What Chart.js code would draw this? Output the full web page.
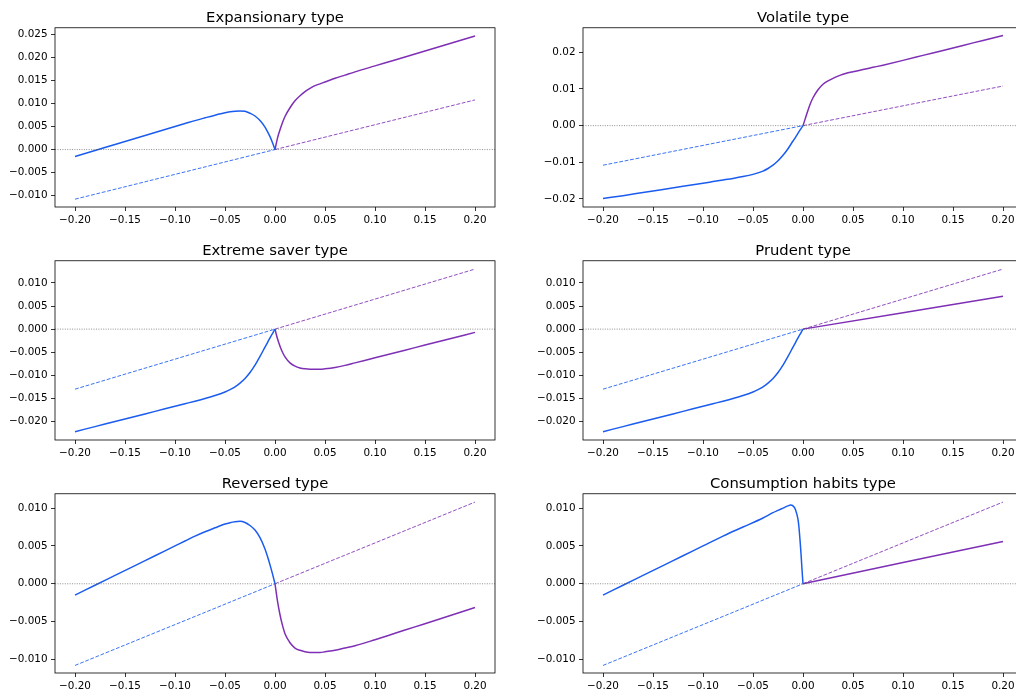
<!DOCTYPE html>
<html>
<head>
<meta charset="utf-8">
<script src="https://cdn.jsdelivr.net/npm/chart.js@4.4.1/dist/chart.umd.min.js"></script>
<style>
html,body{margin:0;padding:0;background:#fff;overflow:hidden;width:1016px;height:692px;}
.cell{position:absolute;}
</style>
</head>
<body>
<div class="cell" style="left:0px;top:0px"><canvas id="c0" width="510" height="232"></canvas></div>
<div class="cell" style="left:528px;top:0px"><canvas id="c1" width="510" height="232"></canvas></div>
<div class="cell" style="left:0px;top:233px"><canvas id="c2" width="510" height="232"></canvas></div>
<div class="cell" style="left:528px;top:233px"><canvas id="c3" width="510" height="232"></canvas></div>
<div class="cell" style="left:0px;top:466px"><canvas id="c4" width="510" height="232"></canvas></div>
<div class="cell" style="left:528px;top:466px"><canvas id="c5" width="510" height="232"></canvas></div>
<script>
// ---------------- DATA ----------------
const titles = ["Expansionary type", "Volatile type", "Extreme saver type", "Prudent type", "Reversed type", "Consumption habits type"];

const xLimits = [-0.22, 0.22];
const xTickValues = [-0.20, -0.15, -0.10, -0.05, 0.00, 0.05, 0.10, 0.15, 0.20];

// sample positions (x < 0 and x > 0)
const xLeft = [-0.2, -0.18, -0.16, -0.14, -0.12, -0.1, -0.09, -0.08, -0.07, -0.06, -0.05, -0.045, -0.04, -0.035, -0.03, -0.025, -0.02, -0.015, -0.01, -0.0075, -0.005, -0.0025, 0];
const xRight = [0, 0.0025, 0.005, 0.0075, 0.01, 0.015, 0.02, 0.025, 0.03, 0.035, 0.04, 0.045, 0.05, 0.06, 0.07, 0.08, 0.1, 0.12, 0.14, 0.16, 0.18, 0.2];
const xHabit = [-0.2, -0.18, -0.16, -0.14, -0.12, -0.1, -0.08, -0.06, -0.04, -0.03, -0.025, -0.02, -0.015, -0.0125, -0.01, -0.0075, -0.005, -0.004, -0.003, -0.002, -0.001, 0];
const xStraight = [0, 0.2];
const xDashLeft = [-0.2, 0];
const xDashRight = [0, 0.2];

// Expansionary
const expBlue = [-0.0015, -0.0002, 0.0011, 0.0024, 0.0037, 0.0050, 0.00565, 0.0063, 0.0069, 0.00748, 0.0080, 0.0082, 0.00834, 0.0084, 0.00832, 0.0079, 0.0073, 0.0063, 0.0049, 0.0039, 0.0028, 0.0015, 0];
const expPurple = [0, 0.0025, 0.0043, 0.0059, 0.0072, 0.0091, 0.0106, 0.0117, 0.0126, 0.0133, 0.0139, 0.0143, 0.0147, 0.0155, 0.0162, 0.0169, 0.0182, 0.0195, 0.0208, 0.0221, 0.0234, 0.0247];
// Volatile
const volBlue = [-0.0199, -0.0191, -0.01825, -0.0174, -0.01655, -0.0157, -0.01527, -0.01484, -0.0144, -0.0139, -0.0133, -0.0129, -0.0124, -0.0117, -0.0108, -0.0096, -0.0081, -0.0063, -0.0042, -0.0032, -0.0021, -0.0010, 0];
const volPurple = [0, 0.0021, 0.0042, 0.0061, 0.0076, 0.0098, 0.0113, 0.0122, 0.0129, 0.0135, 0.0140, 0.0144, 0.0147, 0.0153, 0.0159, 0.0165, 0.0178, 0.01916, 0.02052, 0.02188, 0.02324, 0.0246];
// Extreme saver / Prudent (shared negative side)
const saverBlue = [-0.0222, -0.0211, -0.0200, -0.0189, -0.0178, -0.0167, -0.01615, -0.0156, -0.01502, -0.01438, -0.0136, -0.0131, -0.0125, -0.0117, -0.0107, -0.0094, -0.0078, -0.0059, -0.0039, -0.0029, -0.0019, -0.00095, 0];
const saverPurple = [0, -0.0021, -0.0037, -0.0050, -0.0060, -0.0073, -0.0080, -0.0084, -0.0086, -0.0087, -0.0087, -0.0087, -0.0086, -0.0083, -0.00785, -0.0073, -0.0062, -0.0051, -0.0040, -0.0029, -0.0018, -0.0007];
const prudentPurple = [0, 0.0071];
// Reversed
const revBlue = [-0.0015, -0.0002, 0.0011, 0.0024, 0.0037, 0.0050, 0.00565, 0.0063, 0.00688, 0.0074, 0.0079, 0.00808, 0.0082, 0.00825, 0.0081, 0.0077, 0.0071, 0.0061, 0.0046, 0.0036, 0.0025, 0.0013, 0];
const revPurple = [0, -0.0023, -0.0041, -0.0055, -0.0066, -0.0078, -0.0085, -0.0088, -0.0090, -0.0091, -0.0091, -0.0091, -0.0090, -0.0088, -0.0085, -0.0082, -0.0074, -0.00655, -0.0057, -0.00485, -0.0040, -0.00315];
// Consumption habits
const habitBlue = [-0.0015, -0.0002, 0.0011, 0.0024, 0.0037, 0.0050, 0.0063, 0.0075, 0.0087, 0.0094, 0.0097, 0.0100, 0.0103, 0.0104, 0.0103, 0.0098, 0.0085, 0.0074, 0.0058, 0.0040, 0.0019, 0];
const habitPurple = [0, 0.0056];

// reference (dashed) lines
const dashSmallLeft = [-0.0108, 0];
const dashSmallRight = [0, 0.0108];
const dashLargeLeft = [-0.0130, 0];
const dashLargeRight = [0, 0.0130];

// y axis limits and tick labels
const yLimExp = [-0.0125, 0.0265];
const yTicksExp = [-0.010, -0.005, 0.000, 0.005, 0.010, 0.015, 0.020, 0.025];
const yLimVol = [-0.0222, 0.0267];
const yTicksVol = [-0.02, -0.01, 0.00, 0.01, 0.02];
const yLimSaver = [-0.0240, 0.0148];
const yTicksSaver = [-0.020, -0.015, -0.010, -0.005, 0.000, 0.005, 0.010];
const yLimRev = [-0.0118, 0.0119];
const yTicksRev = [-0.010, -0.005, 0.000, 0.005, 0.010];

// ---------------- RENDER ----------------
const BLUE = '#1a5cf0';
const PURPLE = '#7e2fb5';
const BLUE_DASH = 'rgba(26,92,240,0.85)';
const PURPLE_DASH = 'rgba(126,47,181,0.85)';
const FONT = "'DejaVu Sans', sans-serif";

function zip(xs, ys) { return xs.map((x, i) => ({x: x, y: ys[i]})); }
function fmt(v, d) { return v.toFixed(d).replace('-', '\u2212'); }

const panels = [
  {id: 'c0', title: titles[0], bx: xLeft, by: expBlue, px: xRight, py: expPurple, dl: dashSmallLeft, dr: dashSmallRight, lim: yLimExp, ticks: yTicksExp, dec: 3},
  {id: 'c1', title: titles[1], bx: xLeft, by: volBlue, px: xRight, py: volPurple, dl: dashSmallLeft, dr: dashSmallRight, lim: yLimVol, ticks: yTicksVol, dec: 2},
  {id: 'c2', title: titles[2], bx: xLeft, by: saverBlue, px: xRight, py: saverPurple, dl: dashLargeLeft, dr: dashLargeRight, lim: yLimSaver, ticks: yTicksSaver, dec: 3},
  {id: 'c3', title: titles[3], bx: xLeft, by: saverBlue, px: xStraight, py: prudentPurple, dl: dashLargeLeft, dr: dashLargeRight, lim: yLimSaver, ticks: yTicksSaver, dec: 3},
  {id: 'c4', title: titles[4], bx: xLeft, by: revBlue, px: xRight, py: revPurple, dl: dashSmallLeft, dr: dashSmallRight, lim: yLimRev, ticks: yTicksRev, dec: 3},
  {id: 'c5', title: titles[5], bx: xHabit, by: habitBlue, px: xStraight, py: habitPurple, dl: dashSmallLeft, dr: dashSmallRight, lim: yLimRev, ticks: yTicksRev, dec: 3}
];

const frame = {
  id: 'frame',
  afterDatasetsDraw(chart) {
    const a = chart.chartArea, ctx = chart.ctx;
    ctx.save();
    ctx.strokeStyle = '#000';
    ctx.lineWidth = 0.8;
    ctx.strokeRect(a.left, a.top, a.right - a.left, a.bottom - a.top);
    ctx.restore();
  }
};

Chart.defaults.font.family = FONT;
Chart.defaults.color = '#000';

panels.forEach(p => {
  new Chart(document.getElementById(p.id), {
    type: 'line',
    data: {
      datasets: [
        {data: zip(xLimits, [0, 0]), borderColor: 'rgba(80,80,80,0.8)', borderWidth: 0.8, borderDash: [1, 1.4]},
        {data: zip(xDashLeft, p.dl), borderColor: BLUE_DASH, borderWidth: 1, borderDash: [3.8, 1.7]},
        {data: zip(xDashRight, p.dr), borderColor: PURPLE_DASH, borderWidth: 1, borderDash: [3.8, 1.7]},
        {data: zip(p.bx, p.by), borderColor: BLUE, borderWidth: 1.5, cubicInterpolationMode: 'monotone'},
        {data: zip(p.px, p.py), borderColor: PURPLE, borderWidth: 1.5, cubicInterpolationMode: 'monotone'}
      ]
    },
    options: {
      responsive: false,
      animation: false,
      devicePixelRatio: 1,
      layout: {padding: {left: 0, right: 15, top: 0, bottom: 0}},
      elements: {point: {radius: 0, hoverRadius: 0}, line: {tension: 0.4, borderJoinStyle: 'round', borderCapStyle: 'butt', fill: false}},
      plugins: {
        legend: {display: false},
        tooltip: {enabled: false},
        title: {display: true, text: p.title, fullSize: false, color: '#000', font: {size: 14.8, weight: 'normal', family: FONT, lineHeight: 1.2}, padding: {top: 9, bottom: 1}}
      },
      scales: {
        x: {
          type: 'linear', min: xLimits[0], max: xLimits[1],
          afterBuildTicks: s => { s.ticks = xTickValues.map(v => ({value: v})); },
          afterFit: s => { s.height = 25; },
          ticks: {callback: v => fmt(v, 2), font: {size: 10.4, family: FONT}, color: '#000', padding: 3.5, maxRotation: 0, autoSkip: false},
          grid: {display: true, drawOnChartArea: false, drawTicks: true, tickLength: 4, color: '#000', lineWidth: 0.8},
          border: {display: false}
        },
        y: {
          type: 'linear', min: p.lim[0], max: p.lim[1],
          afterBuildTicks: s => { s.ticks = p.ticks.map(v => ({value: v})); },
          afterFit: s => { s.width = 55; },
          ticks: {callback: v => fmt(v, p.dec), font: {size: 10.4, family: FONT}, color: '#000', padding: 3.5, autoSkip: false},
          grid: {display: true, drawOnChartArea: false, drawTicks: true, tickLength: 4, color: '#000', lineWidth: 0.8},
          border: {display: false}
        }
      }
    },
    plugins: [frame]
  });
});
</script>
</body>
</html>
